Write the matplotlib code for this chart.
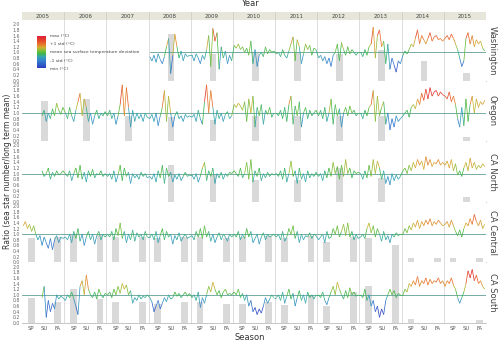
import numpy as np
import matplotlib.pyplot as plt
from matplotlib.collections import LineCollection
from matplotlib.colors import LinearSegmentedColormap, Normalize

years = list(range(2005, 2016))
seasons = ['SP', 'SU', 'FA']
regions = ['Washington', 'Oregon', 'CA North', 'CA Central', 'CA South']
N = None

# ratio (sea star number / long term mean), 20 samples per year, Mar..Nov
washington = [
    [N] * 20, [N] * 20, [N] * 20,
    [0.85, 0.7, 0.9, 0.65, 0.95, 0.75, 0.6, 0.85, 1.2, 1.5, 0.25, 0.9, 1.65, 1.2, 0.8, 1.05, 0.7, 0.95, 0.85, 0.9],
    [0.9, 0.7, 0.95, 0.8, 0.6, 0.9, 0.75, 1.1, 1.6, 0.5, 1.85, 1.4, 1.7, 0.4, 1.2, 0.8, 1.05, 0.6, 0.9, 0.7],
    [1.25, 1.15, 1.3, 1.1, 1.2, 1.0, 1.15, 0.9, 1.4, 0.6, 1.1, 0.5, 0.9, 1.0, 0.85, 1.2, 0.95, 1.1, 1.0, 1.05],
    [0.95, 1.0, 0.85, 1.1, 0.9, 0.8, 1.05, 1.3, 1.55, 0.7, 1.45, 1.2, 0.6, 0.95, 1.3, 1.1, 1.25, 0.9, 1.15, 1.1],
    [0.8, 0.9, 0.7, 0.85, 0.6, 0.8, 0.5, 0.9, 1.0, 1.3, 0.7, 1.35, 1.1, 0.9, 1.2, 0.95, 1.1, 1.0, 0.9, 1.0],
    [1.0, 0.85, 1.1, 0.9, 1.2, 1.3, 1.9, 0.8, 1.6, 1.8, 1.2, 1.4, 0.6, 1.3, 0.4, 0.8, 0.55, 0.3, 0.7, 0.6],
    [0.9, 1.05, 0.95, 1.1, 1.3, 1.2, 1.5, 1.8, 1.3, 1.6, 1.45, 1.3, 1.5, 1.7, 1.4, 1.55, 1.6, 1.45, 1.5, 1.4],
    [1.5, 1.6, 1.45, 1.65, 1.5, 1.3, 1.1, 0.8, 0.5, 0.7, 1.5, 1.7, 1.3, 1.6, 1.2, 1.45, 1.3, 1.4, 1.15, 1.05],
]
oregon = [
    [N] * 9 + [0.9, 1.1, 0.7, 1.0, 0.8, 1.15, 0.9, 1.35, 1.1, 0.95, 1.2],
    [1.0, 0.8, 1.2, 0.9, 0.7, 1.1, 1.4, 1.7, 0.9, 1.5, 1.2, 0.7, 1.0, 0.6, 0.9, 1.1, 0.8, 1.0, 0.9, 1.05],
    [0.9, 1.1, 0.8, 1.0, 0.6, 0.9, 1.3, 2.0, 0.9, 1.9, 1.2, 0.5, 1.1, 0.7, 1.0, 0.8, 0.95, 0.7, 1.0, 0.85],
    [0.8, 0.95, 0.7, 1.0, 0.55, 0.9, 1.2, 1.8, 0.7, 1.6, 1.0, 0.5, 0.9, 1.05, 0.8, 0.9, 0.7, 0.95, 0.85, 0.9],
    [0.85, 0.95, 0.7, 1.1, 0.8, 0.6, 1.4, 2.0, 1.0, 1.8, 1.2, 0.6, 1.1, 0.8, 1.0, 0.7, 0.95, 1.05, 0.8, 0.9],
    [1.3, 1.2, 1.35, 1.25, 1.1, 1.4, 0.7, 1.5, 1.0, 1.6, 0.5, 1.2, 0.9, 1.3, 0.6, 1.1, 0.95, 1.2, 0.85, 1.0],
    [1.0, 0.9, 1.1, 0.8, 1.2, 0.7, 1.3, 1.6, 0.6, 1.25, 0.9, 1.4, 0.5, 1.0, 1.2, 0.8, 1.1, 0.9, 1.0, 1.1],
    [0.9, 1.1, 0.8, 1.2, 0.7, 1.0, 1.5, 0.6, 1.3, 0.9, 1.15, 0.5, 1.0, 1.2, 0.9, 1.25, 1.0, 1.1, 0.9, 1.0],
    [1.0, 0.8, 1.1, 0.9, 1.2, 1.3, 1.8, 0.7, 1.6, 0.9, 1.2, 1.4, 0.6, 1.0, 0.4, 0.8, 0.5, 0.9, 0.7, 0.8],
    [0.9, 1.0, 1.1, 0.85, 1.2, 1.3, 1.15, 1.5, 1.3, 1.7, 1.45, 1.85, 1.5, 1.9, 1.6, 1.75, 1.8, 1.6, 1.75, 1.65],
    [1.6, 1.5, 1.75, 1.4, 1.6, 1.3, 0.8, 0.5, 1.2, 0.55, 1.5, 0.7, 1.3, 1.6, 1.0, 1.5, 1.2, 1.4, 1.3, 1.45],
]
ca_north = [
    [N] * 9 + [1.1, 0.9, 1.0, 1.2, 0.8, 1.05, 0.9, 1.1, 0.95, 1.0, 1.1],
    [1.0, 0.9, 1.1, 0.75, 1.0, 1.2, 0.85, 1.3, 0.8, 1.05, 0.7, 1.1, 0.9, 1.15, 0.85, 1.0, 0.95, 1.1, 0.9, 1.0],
    [0.9, 1.0, 0.8, 1.1, 0.7, 0.95, 1.3, 0.75, 1.2, 0.9, 1.05, 0.65, 1.0, 0.85, 0.95, 0.8, 1.05, 0.9, 1.0, 0.85],
    [0.9, 0.8, 1.0, 0.7, 1.1, 0.85, 1.3, 0.65, 1.2, 0.9, 1.05, 0.7, 0.95, 0.8, 1.0, 0.75, 0.9, 1.05, 0.9, 0.95],
    [0.95, 0.8, 1.0, 0.7, 0.9, 1.2, 1.4, 0.75, 1.1, 0.9, 1.2, 0.65, 1.0, 0.85, 1.05, 0.8, 1.0, 0.9, 1.05, 1.0],
    [1.1, 1.0, 0.9, 1.2, 0.85, 1.0, 1.4, 0.8, 1.5, 0.7, 1.1, 0.9, 1.2, 0.75, 1.0, 0.85, 1.05, 0.9, 1.0, 0.95],
    [1.0, 0.9, 1.1, 0.8, 1.2, 0.7, 1.0, 1.45, 0.9, 1.1, 0.65, 1.2, 0.8, 1.0, 0.7, 1.1, 0.85, 1.0, 0.9, 1.05],
    [0.9, 1.0, 0.75, 1.1, 0.85, 1.2, 0.9, 1.4, 1.0, 1.25, 0.8, 1.3, 0.9, 1.5, 1.0, 1.2, 0.85, 1.1, 1.0, 1.05],
    [1.0, 0.8, 1.1, 0.85, 1.3, 0.9, 1.5, 1.0, 1.45, 1.2, 0.8, 1.1, 0.65, 0.9, 0.6, 1.0, 0.75, 0.95, 0.8, 0.9],
    [1.1, 1.2, 1.0, 1.3, 1.1, 1.4, 1.2, 1.5, 1.3, 1.45, 1.15, 1.6, 1.3, 1.5, 1.25, 1.4, 1.35, 1.5, 1.3, 1.4],
    [1.3, 1.45, 1.2, 1.5, 1.1, 1.35, 0.95, 1.1, 0.9, 1.2, 1.4, 1.1, 1.55, 1.2, 1.4, 1.15, 1.3, 1.2, 1.35, 1.25],
]
ca_central = [
    [1.3, 1.45, 1.2, 1.35, 1.1, 1.3, 1.0, 0.8, 0.95, 0.6, 0.9, 0.7, 0.5, 0.85, 0.45, 0.8, 0.95, 0.7, 0.9, 0.85],
    [0.9, 0.8, 1.0, 0.7, 1.1, 0.85, 1.2, 0.75, 1.0, 0.6, 0.9, 1.1, 0.8, 1.0, 0.65, 0.95, 1.1, 0.8, 1.0, 0.9],
    [1.0, 0.9, 1.1, 0.8, 1.2, 0.95, 1.4, 0.85, 1.1, 0.7, 1.0, 0.8, 1.15, 0.75, 1.05, 0.9, 1.0, 0.8, 1.1, 0.9],
    [0.9, 1.0, 0.8, 1.1, 0.7, 0.95, 1.2, 0.8, 1.1, 0.9, 1.0, 0.65, 0.95, 0.8, 1.05, 0.75, 0.9, 1.0, 0.85, 0.9],
    [0.95, 0.8, 1.1, 0.9, 1.2, 0.85, 1.3, 0.9, 1.1, 0.75, 1.0, 0.7, 0.9, 1.05, 0.8, 1.0, 0.9, 0.75, 1.0, 0.9],
    [1.0, 0.9, 1.1, 0.8, 1.0, 0.85, 1.2, 0.9, 1.1, 0.7, 0.85, 1.0, 0.65, 0.9, 1.05, 0.8, 1.0, 0.9, 0.95, 1.0],
    [0.9, 1.0, 0.8, 1.1, 0.75, 0.9, 1.2, 1.0, 1.3, 0.85, 1.1, 0.7, 1.0, 0.8, 0.95, 0.9, 1.05, 0.85, 1.0, 0.95],
    [0.8, 0.9, 1.0, 0.7, 1.1, 0.85, 0.9, 1.2, 1.0, 1.3, 0.9, 1.1, 1.35, 0.95, 1.4, 0.9, 1.1, 0.8, 1.0, 0.85],
    [0.9, 1.0, 0.85, 1.2, 1.4, 1.05, 1.3, 0.9, 1.2, 1.0, 0.75, 1.1, 0.8, 0.95, 0.7, 1.0, 0.9, 1.05, 0.95, 1.0],
    [1.0, 1.2, 1.05, 1.3, 1.15, 1.4, 1.25, 1.5, 1.2, 1.45, 1.3, 1.5, 1.35, 1.55, 1.3, 1.45, 1.35, 1.5, 1.4, 1.3],
    [1.35, 1.45, 1.25, 1.5, 1.3, 1.1, 0.95, 1.15, 0.9, 1.2, 1.4, 1.3, 1.55, 1.35, 1.7, 1.45, 1.3, 1.5, 1.2, 1.35],
]
ca_south = [
    [N] * 9 + [0.9, 1.3, 0.2, 0.8, 0.4, 0.7, 0.5, 1.0, 0.85, 0.95, 0.9],
    [0.8, 1.0, 0.9, 1.1, 0.85, 0.6, 0.3, 1.3, 1.5, 1.0, 1.7, 1.2, 1.0, 0.9, 1.1, 0.85, 1.2, 1.0, 0.9, 1.05],
    [1.0, 1.1, 0.9, 1.2, 1.0, 1.3, 1.05, 1.4, 1.2, 1.35, 1.0, 1.15, 0.7, 0.9, 0.8, 1.0, 0.85, 0.95, 0.9, 1.0],
    [0.9, 0.75, 0.4, 0.6, 0.8, 0.5, 0.7, 0.9, 0.75, 1.0, 0.85, 0.9, 1.1, 0.95, 1.05, 0.9, 1.0, 1.1, 0.95, 1.05],
    [0.9, 1.0, 0.8, 1.1, 0.55, 0.9, 0.7, 1.0, 1.3, 1.1, 1.45, 1.2, 1.0, 1.15, 0.9, 1.1, 1.2, 1.0, 1.05, 1.0],
    [1.1, 1.0, 1.2, 0.9, 1.05, 0.8, 1.0, 0.6, 0.8, 0.4, 0.55, 0.3, 0.5, 0.35, 0.6, 0.9, 0.7, 0.85, 1.0, 0.9],
    [0.9, 1.0, 0.8, 1.1, 0.7, 0.95, 1.2, 0.85, 1.05, 0.6, 0.9, 1.15, 0.8, 1.0, 0.7, 1.1, 0.9, 1.0, 0.85, 1.0],
    [1.0, 0.9, 1.1, 0.8, 0.65, 0.9, 1.1, 1.3, 1.0, 1.45, 1.2, 1.0, 0.85, 1.15, 0.9, 1.25, 1.0, 1.1, 0.95, 1.0],
    [1.0, 0.9, 1.2, 0.8, 1.0, 0.6, 0.8, 0.4, 0.6, 0.2, 0.5, 0.3, 0.8, 1.0, 1.2, 1.0, 1.15, 0.9, 1.05, 1.0],
    [1.0, 1.2, 1.1, 1.4, 1.3, 1.5, 1.35, 1.65, 1.3, 1.5, 1.4, 1.6, 1.35, 1.55, 1.4, 1.5, 1.45, 1.6, 1.4, 1.5],
    [1.3, 1.5, 1.4, 1.6, 1.35, 1.2, 0.9, 0.7, 0.9, 1.1, 1.4, 1.85, 1.6, 1.9, 1.5, 1.7, 1.4, 1.5, 1.3, 1.2],
]

# gray bars, one value per season (SP, SU, FA) for each year
wa_bars = [0, 0, 0, 0, 0, 0, 0, 0, 0, 0, 1.65, 0, 0, 0.95, 0, 0, 1.0, 0,
           0, 1.0, 0, 0, 0.95, 0, 0, 1.1, 0, 0, 0.7, 0, 0, 0.27, 0]
or_bars = [0, 1.43, 0, 0, 1.48, 0, 0, 0.9, 0, 0, 0.85, 0, 0, 0.75, 0, 0, 0.9, 0,
           0, 0.9, 0, 0, 0.9, 0, 0, 0.9, 0, 0, 0, 0, 0, 0.15, 0]
cn_bars = [0, 0, 0, 0, 0, 0, 0, 0, 0, 0, 1.3, 0, 0, 1.0, 0, 0, 0.76, 0,
           0, 0.76, 0, 0, 1.2, 0, 0, 0.85, 0, 0, 0, 0, 0, 0.18, 0]
cc_bars = [0.85, 0, 0.9, 1.0, 0, 1.0, 0.9, 0, 0.9, 0.85, 0, 0.9, 0.9, 0, 0.85, 0.9, 0, 0.95,
           0.87, 0, 0.95, 0.73, 0, 0.9, 0.87, 0, 0.62, 0.15, 0, 0.15, 0.15, 0, 0.15]
cs_bars = [0.87, 0, 0.76, 1.2, 0, 0.84, 0.73, 0, 0.73, 0.69, 0, 0.76, 0.73, 0, 0.69, 0.69, 0, 0.73,
           0.65, 0, 1.0, 0.62, 0, 1.1, 1.3, 0, 2.2, 0.15, 0, 0, 0, 0, 0.1]

series = [washington, oregon, ca_north, ca_central, ca_south]
bars = [wa_bars, or_bars, cn_bars, cc_bars, cs_bars]

season_pos = [0.22, 0.53, 0.85]
cmap = LinearSegmentedColormap.from_list('sst', [
    (0.0, '#2f3fc0'), (0.22, '#3580d0'), (0.36, '#36a8b0'), (0.44, '#3db54a'),
    (0.54, '#7cc03a'), (0.64, '#d4b030'), (0.76, '#e8702c'), (0.9, '#e33a2c'),
    (1.0, '#e0203a')])
norm = Normalize(0.35, 1.85)

W, H = 500, 343
fig = plt.figure(figsize=(W / 100, H / 100), dpi=100)
left, right = 22 / W, 486 / W
top, bottom = 1 - 20 / H, 1 - 323 / H
ph = (top - bottom) / 5
grid_c = '#d6d6d6'

# header band with year names
hax = fig.add_axes([left, top, right - left, 8 / H])
hax.set_facecolor('#e6e6da')
hax.set_xlim(2005, 2016)
hax.set_ylim(0, 1)
for y in years:
    hax.text(y + 0.5, 0.5, str(y), ha='center', va='center', fontsize=4, color='#444')
    if y > 2005:
        hax.axvline(y, color='#cfcfc4', lw=0.6)
hax.set_xticks([])
hax.set_yticks([])
for s in hax.spines.values():
    s.set_visible(False)

for i, (name, data, bvals) in enumerate(zip(regions, series, bars)):
    ax = fig.add_axes([left, top - (i + 1) * ph, right - left, ph])
    ax.set_xlim(2005, 2016)
    ax.set_ylim(0, 2.15)
    for y in range(2006, 2016):
        ax.axvline(y, color=grid_c, lw=0.6, zorder=0)

    bx = [y + p for y in years for p in season_pos]
    ax.bar(bx, np.minimum(bvals, 2.15), width=0.16, color='#d9d9d9', zorder=1)

    first = min(k for k, yr in enumerate(data) if any(v is not None for v in yr))
    ax.plot([years[first] + 0.03 if i == 0 else 2005, 2016], [1, 1],
            color='#5f9f96', lw=0.6, zorder=2)

    xs, vs = [], []
    for y, vals in zip(years, data):
        xs.extend(y + np.linspace(0.03, 0.97, len(vals)))
        vs.extend(np.nan if v is None else v for v in vals)
    xs, vs = np.array(xs), np.array(vs, dtype=float)
    pts = np.column_stack([xs, vs])
    segs = np.stack([pts[:-1], pts[1:]], axis=1)
    ok = ~np.isnan(segs).any(axis=(1, 2))
    segs = segs[ok]
    lc = LineCollection(segs, cmap=cmap, norm=norm, linewidths=0.55, zorder=3)
    lc.set_array(segs[:, :, 1].mean(axis=1))
    ax.add_collection(lc)

    ax.set_yticks(np.arange(0, 2.01, 0.2))
    ax.set_yticklabels([f'{t:.1f}' for t in np.arange(0, 2.01, 0.2)])
    ax.tick_params(axis='y', labelsize=3.3, length=0, pad=1.5, colors='#666')
    for side in ['top', 'right', 'left']:
        ax.spines[side].set_visible(False)
    ax.spines['bottom'].set_color('#bdbdbd')
    ax.spines['bottom'].set_linewidth(0.6)
    if i < 4:
        ax.set_xticks([])
    else:
        ax.set_xticks(bx)
        ax.set_xticklabels(seasons * len(years))
        ax.tick_params(axis='x', labelsize=3.8, length=0, pad=2, colors='#555')
    ax.text(1.004, 0.5, name, transform=ax.transAxes, rotation=270,
            ha='left', va='center', fontsize=6, color='#444')

    if i == 0:
        cax = fig.add_axes([37 / W, 1 - 68 / H, 9 / W, 32 / H])
        cax.imshow(np.linspace(1, 0, 100)[:, None], aspect='auto', cmap=cmap,
                   extent=[0, 1, 0, 1])
        cax.axis('off')
        labels = ['max (°C)', '+1 std (°C)', 'mean sea surface temperature deviation',
                  '-1 std (°C)', 'min (°C)']
        for lab, py in zip(labels, [36, 44, 52, 61, 69]):
            fig.text(50 / W, 1 - py / H, lab, fontsize=3.2, color='#444',
                     ha='left', va='center')

fig.text(0.5, 1 - 4 / H, 'Year', ha='center', va='center', fontsize=6, color='#333')
fig.text(0.5, 1 - 338 / H, 'Season', ha='center', va='center', fontsize=6, color='#333')
fig.text(8 / W, (top + bottom) / 2, 'Ratio (sea star number/long term mean)',
         rotation=90, ha='center', va='center', fontsize=5.5, color='#333')

fig.savefig('out.png', dpi=100)
